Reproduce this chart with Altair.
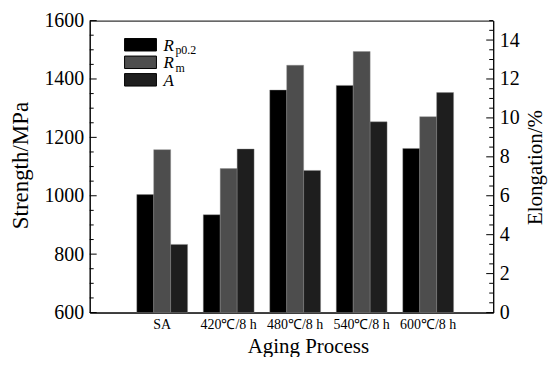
import altair as alt
import pandas as pd

# ---- data ----
processes = ["SA", "420℃/8 h", "480℃/8 h", "540℃/8 h", "600℃/8 h"]
rp02 = [1004, 935, 1362, 1378, 1162]      # MPa
rm = [1158, 1093, 1447, 1494, 1271]       # MPa
elong = [3.5, 8.4, 7.3, 9.8, 11.3]        # %
series = ["Rp0.2", "Rm", "A"]
legend_main = ["R", "R", "A"]
legend_sub = ["p0.2", "m", ""]
colors = ["#000000", "#4d4d4d", "#1e1e1e"]
left_ticks = list(range(600, 1601, 50))
left_labels = list(range(600, 1601, 200))
right_ticks = [i * 0.5 for i in range(31)]
right_labels = list(range(0, 15, 2))

FONT = "Liberation Serif"
W, H = 405, 293

strength_df = pd.DataFrame({
    "process": processes * 2,
    "series": ["Rp0.2"] * len(processes) + ["Rm"] * len(processes),
    "value": rp02 + rm,
})
elong_df = pd.DataFrame({
    "process": processes,
    "series": ["A"] * len(processes),
    "value": elong,
})
legend_df = pd.DataFrame({"series": series, "main": legend_main, "sub": legend_sub})
left_tick_df = pd.DataFrame({"v": left_ticks, "major": [v in left_labels for v in left_ticks]})
right_tick_df = pd.DataFrame({"v": right_ticks, "major": [v in right_labels for v in right_ticks]})

x_scale = alt.Scale(domain=processes, paddingInner=0.236, paddingOuter=0.652, align=0.543)
xoff_scale = alt.Scale(domain=series, paddingInner=0, paddingOuter=0)
color_scale = alt.Scale(domain=series, range=colors)
left_y = alt.Scale(domain=[600, 1600], nice=False, zero=False)
right_y = alt.Scale(domain=[0, 15], nice=False)

x_axis = alt.Axis(
    title="Aging Process", labelAngle=0, ticks=False, labelFont=FONT, labelFontSize=14,
    labelPadding=5, labelColor="black", domainColor="black", titleFont=FONT,
    titleFontSize=21, titleFontWeight="normal", titleColor="black", titleX=219, titleY=40,
    titleAlign="center", titleBaseline="alphabetic", grid=False,
)

left_axis = alt.Axis(
    orient="left", values=left_labels, format="d", ticks=False,
    domainColor="black", labelColor="black", labelPadding=6,
    labelFont=FONT, labelFontSize=20, labelOverlap=False, labelFlush=False,
    title="Strength/MPa", titleFont=FONT, titleFontSize=23, titleFontWeight="normal",
    titleColor="black", titleAngle=270, titleX=-69, titleY=145, titleAlign="center",
    titleBaseline="middle", grid=False,
)

right_axis = alt.Axis(
    orient="right", values=right_labels, format="d", ticks=False,
    domainColor="black", labelColor="black", labelPadding=6,
    labelFont=FONT, labelFontSize=20, labelOverlap=False, labelFlush=False,
    title="Elongation/%", titleFont=FONT, titleFontSize=21, titleFontWeight="normal",
    titleColor="black", titleAngle=270, titleX=42, titleY=147, titleAlign="center",
    titleBaseline="middle", grid=False,
)

left = alt.Chart(strength_df).mark_bar(stroke="#8a8a8a", strokeWidth=0.4).encode(
    x=alt.X("process:N", scale=x_scale, sort=processes, axis=x_axis),
    xOffset=alt.XOffset("series:N", scale=xoff_scale, sort=series),
    y=alt.Y("value:Q", scale=left_y, axis=left_axis),
    y2=alt.datum(600),
    color=alt.Color("series:N", scale=color_scale, legend=None),
)

right = alt.Chart(elong_df).mark_bar(stroke="#8a8a8a", strokeWidth=0.4).encode(
    x=alt.X("process:N", scale=x_scale, sort=processes, axis=x_axis),
    xOffset=alt.XOffset("series:N", scale=xoff_scale, sort=series),
    y=alt.Y("value:Q", scale=right_y, axis=right_axis),
    color=alt.Color("series:N", scale=color_scale, legend=None),
)

# ---- inward-pointing axis ticks (major + minor), placed by the same y scales ----
tick_layers = []
for df, scale, major, x0, x1 in [
    (left_tick_df, left_y, True, 0, 7),
    (left_tick_df, left_y, False, 0, 4),
    (right_tick_df, right_y, True, W, W - 7),
    (right_tick_df, right_y, False, W, W - 4),
]:
    tick_layers.append(
        alt.Chart(df).transform_filter(alt.datum.major == major).mark_rule(
            color="black", strokeWidth=1
        ).encode(
            y=alt.Y("v:Q", scale=scale, axis=None),
            x=alt.value(x0), x2=alt.value(x1),
        )
    )

# ---- hand-made legend (italic R with upright subscript) ----
legend_layers = []
for i, s in enumerate(series):
    top = 18 + 17.6 * i
    base = alt.Chart(legend_df).transform_filter(alt.datum.series == s)
    legend_layers.append(
        base.mark_rect(stroke="black", strokeWidth=1).encode(
            x=alt.value(35), x2=alt.value(67), y=alt.value(top), y2=alt.value(top + 12.5),
            color=alt.Color("series:N", scale=color_scale, legend=None),
        )
    )
    legend_layers.append(
        base.mark_text(font=FONT, fontSize=17, fontStyle="italic", align="left",
                       baseline="alphabetic", color="black").encode(
            x=alt.value(74), y=alt.value(top + 12.3), text="main:N",
        )
    )
    if legend_sub[i]:
        legend_layers.append(
            base.mark_text(font=FONT, fontSize=12, align="left",
                           baseline="alphabetic", color="black").encode(
                x=alt.value(86), y=alt.value(top + 15.5), text="sub:N",
            )
        )

chart = alt.layer(left, right, *tick_layers, *legend_layers).resolve_scale(
    y="independent"
).properties(
    width=W, height=H,
    autosize=alt.AutoSizeParams(type="none"),
    padding={"left": 82, "top": 12, "right": 56, "bottom": 44},
).configure_view(stroke="black", strokeWidth=1)

chart.save("out.html", embed_options={"renderer": "svg", "actions": False})
